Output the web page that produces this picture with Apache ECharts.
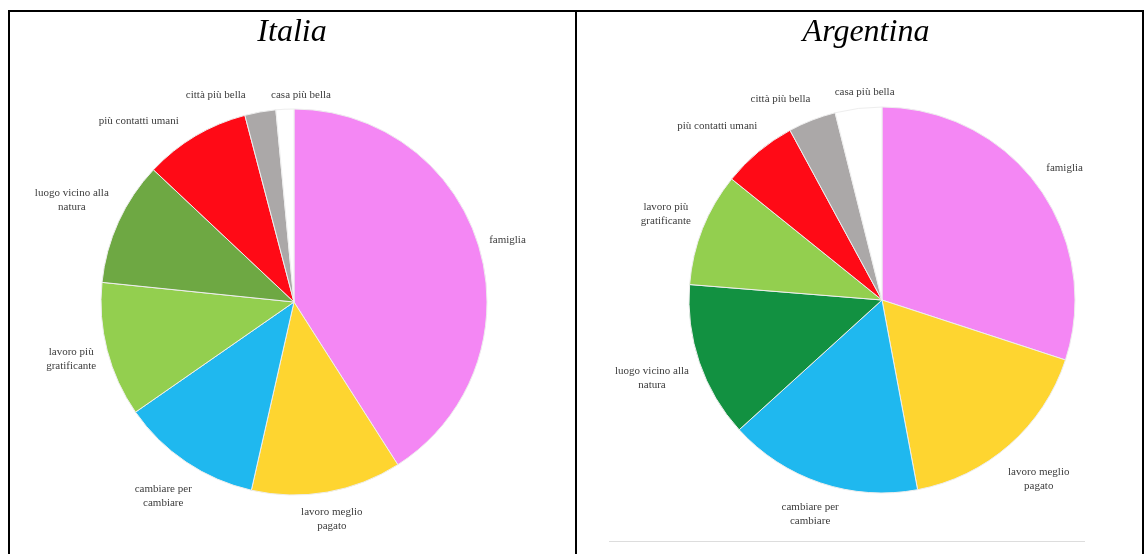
<!DOCTYPE html>
<html>
<head>
<meta charset="utf-8">
<script src="https://cdn.jsdelivr.net/npm/echarts@6/dist/echarts.min.js"></script>
<style>
  html, body { margin: 0; padding: 0; background: #fff; }
  #chart { width: 1146px; height: 554px; }
</style>
</head>
<body>
<div id="chart"></div>
<script>
// valori (percentuali stimate)
const cats_it = ['famiglia', 'lavoro meglio\npagato', 'cambiare per\ncambiare', 'lavoro più\ngratificante',
  'luogo vicino alla\nnatura', 'più contatti umani', 'città più bella', 'casa più bella'];
const vals_it = [41, 12.6, 11.8, 11.3, 10.4, 8.9, 2.6, 1.5];

const cats_ar = ['famiglia', 'lavoro meglio\npagato', 'cambiare per\ncambiare', 'luogo vicino alla\nnatura',
  'lavoro più\ngratificante', 'più contatti umani', 'città più bella', 'casa più bella'];
const vals_ar = [30, 17, 16.2, 13, 9.5, 6.3, 4, 3.9];

const titles = ['Italia', 'Argentina'];

// colori per categoria
const colorOf = {
  'famiglia': '#f487f4',
  'lavoro meglio\npagato': '#fed530',
  'cambiare per\ncambiare': '#1fb8ef',
  'lavoro più\ngratificante': '#93cf4f',
  'più contatti umani': '#ff0a16',
  'città più bella': '#aba8a8',
  'casa più bella': '#ffffff'
};
const naturaColor = ['#6ea843', '#129141'];

const R = 193;
const LABEL_FONT = '11px "Liberation Serif"';
const LINE_H = 14;

// posizioni delle etichette: fuori dal settore, centrate, con un po' di anti-sovrapposizione
function labelSpots(names, values, cx, cy, r) {
  const ctx = document.createElement('canvas').getContext('2d');
  ctx.font = LABEL_FONT;
  const total = values.reduce((a, b) => a + b, 0);
  let acc = 0;
  const items = names.map((n, i) => {
    const lines = n.split('\n');
    const w = Math.max(...lines.map(l => ctx.measureText(l).width));
    const a = (acc + values[i] / 2) / total * 360;
    acc += values[i];
    return { w: w, h: lines.length * LINE_H, a: a };
  });
  const spot = it => {
    const t = it.a * Math.PI / 180;
    const s = Math.sin(t), c = Math.cos(t);
    const gap = 5 + 9 * Math.abs(Math.sin(2 * t));
    const d = r + gap + Math.abs(s) * it.w / 2 + Math.abs(c) * it.h / 2;
    return [cx + d * s, cy - d * c];
  };
  for (let k = 0; k < 400; k++) {
    let moved = false;
    for (let i = 0; i < items.length; i++) {
      const j = (i + 1) % items.length;
      const p = spot(items[i]), q = spot(items[j]);
      if (Math.abs(p[0] - q[0]) < (items[i].w + items[j].w) / 2 + 24 &&
          Math.abs(p[1] - q[1]) < (items[i].h + items[j].h) / 2 + 12) {
        items[i].a -= 0.45;
        items[j].a += 0.15;
        moved = true;
      }
    }
    if (!moved) break;
  }
  return items.map(spot);
}

function pieSeries(name, cats, vals, center, natura) {
  const spots = labelSpots(cats, vals, center[0], center[1], R);
  return {
    name: name,
    type: 'pie',
    center: center,
    radius: R,
    startAngle: 90,
    clockwise: true,
    animation: false,
    avoidLabelOverlap: false,
    itemStyle: { borderColor: '#eeeeee', borderWidth: 1 },
    label: {
      show: true,
      position: 'outside',
      fontFamily: 'Liberation Serif',
      fontSize: 11,
      lineHeight: LINE_H,
      color: '#3c3c3c'
    },
    labelLine: { show: false },
    labelLayout: function (params) {
      const p = spots[params.dataIndex];
      return { x: p[0], y: p[1], align: 'center', verticalAlign: 'middle' };
    },
    emphasis: { disabled: true },
    data: cats.map((c, i) => ({
      name: c,
      value: vals[i],
      itemStyle: { color: c.startsWith('luogo') ? natura : colorOf[c] }
    }))
  };
}

const chart = echarts.init(document.getElementById('chart'));

const borderLine = (x1, y1, x2, y2, color, w) => ({
  type: 'line',
  silent: true,
  shape: { x1: x1, y1: y1, x2: x2, y2: y2 },
  style: { stroke: color, lineWidth: w }
});

const titleStyle = { fontFamily: 'Liberation Serif', fontStyle: 'italic', fontWeight: 'normal', fontSize: 32, color: '#000' };

chart.setOption({
  backgroundColor: '#ffffff',
  title: [
    { text: titles[0], left: 292, top: 17, textAlign: 'center', padding: 0, textStyle: titleStyle },
    { text: titles[1], left: 866, top: 17, textAlign: 'center', padding: 0, textStyle: titleStyle }
  ],
  graphic: [
    borderLine(8, 11, 1144, 11, '#000', 2),
    borderLine(9, 10, 9, 554, '#000', 2),
    borderLine(576, 10, 576, 554, '#000', 2),
    borderLine(1143, 10, 1143, 554, '#000', 2),
    borderLine(609, 541.5, 1085, 541.5, '#dddddd', 1)
  ],
  series: [
    pieSeries('Italia', cats_it, vals_it, [294, 302], naturaColor[0]),
    pieSeries('Argentina', cats_ar, vals_ar, [882, 300], naturaColor[1])
  ]
});
</script>
</body>
</html>
